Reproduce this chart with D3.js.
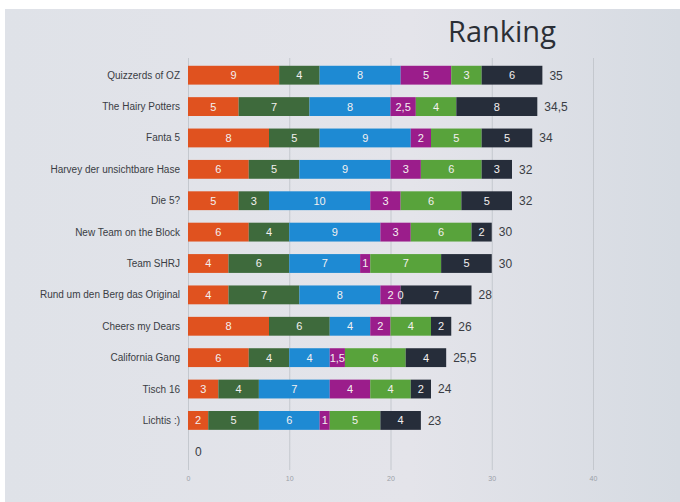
<!DOCTYPE html>
<html>
<head>
<meta charset="utf-8">
<script src="https://cdn.jsdelivr.net/npm/d3@7"></script>
<style>
  body { margin: 0; background: #fff; }
  svg { display: block; font-family: 'Liberation Sans', Arial, sans-serif; }
</style>
</head>
<body>
<svg id="chart" width="680" height="502"></svg>
<script>
// teams, top to bottom (last row is the empty one showing only "0")
const teams = [
  'Quizzerds of OZ', 'The Hairy Potters', 'Fanta 5', 'Harvey der unsichtbare Hase',
  'Die 5?', 'New Team on the Block', 'Team SHRJ', 'Rund um den Berg das Original',
  'Cheers my Dears', 'California Gang', 'Tisch 16', 'Lichtis :)', ''
];
const round1 = [9, 5, 8, 6, 5, 6, 4, 4, 8, 6, 3, 2, 0];
const round2 = [4, 7, 5, 5, 3, 4, 6, 7, 6, 4, 4, 5, 0];
const round3 = [8, 8, 9, 9, 10, 9, 7, 8, 4, 4, 7, 6, 0];
const round4 = [5, 2.5, 2, 3, 3, 3, 1, 2, 2, 1.5, 4, 1, 0];
const round5 = [3, 4, 5, 6, 6, 6, 7, 0, 4, 6, 4, 5, 0];
const round6 = [6, 8, 5, 3, 5, 2, 5, 7, 2, 4, 2, 4, 0];
const xTicks = [0, 10, 20, 30, 40];

const rounds = [round1, round2, round3, round4, round5, round6];
const colors = ['#e0521f', '#3e6a3c', '#1e8ad3', '#9b1d8b', '#58a33b', '#262d3a'];

const svg = d3.select('#chart');
const W = 680, H = 502;

// screen background (photo of a projector screen)
const defs = svg.append('defs');
const grad = defs.append('linearGradient').attr('id', 'bg').attr('x1', 0).attr('x2', 1);
grad.append('stop').attr('offset', '0%').attr('stop-color', '#dfe2e8');
grad.append('stop').attr('offset', '60%').attr('stop-color', '#e4e4ea');
grad.append('stop').attr('offset', '100%').attr('stop-color', '#d6dbe2');
svg.append('rect').attr('x', 5).attr('y', 9).attr('width', W - 5).attr('height', H - 9)
  .attr('fill', 'url(#bg)');

svg.append('text')
  .attr('x', 448).attr('y', 42)
  .attr('font-size', 29)
  .attr('fill', '#2b2f36')
  .attr('font-family', "'Open Sans', sans-serif")
  .text('Ranking');

const x = d3.scaleLinear().domain([0, 40]).range([188, 593]);
const y = d3.scaleBand().domain(d3.range(teams.length)).range([59.5, 467.5]).paddingInner(0.4).paddingOuter(0.2);

// grid + tick labels
const axis = svg.append('g')
  .attr('transform', 'translate(0,470)')
  .call(d3.axisBottom(x).tickValues(xTicks).tickSize(-412).tickPadding(6));
axis.select('.domain').remove();
axis.selectAll('.tick line').attr('stroke', '#c4c8ce').attr('stroke-width', 1);
axis.selectAll('.tick text').attr('fill', '#9aa0a8').attr('font-size', 7);

// stacked segments
const stacked = teams.map((t, i) => {
  let acc = 0;
  return rounds.map((r, k) => {
    const seg = { i, k, v: r[i], x0: acc, x1: acc + r[i] };
    acc += r[i];
    return seg;
  });
});
const totals = teams.map((t, i) => d3.sum(rounds, r => r[i]));

const rows = svg.selectAll('g.row')
  .data(stacked)
  .enter()
  .append('g')
  .attr('class', 'row');

rows.selectAll('rect')
  .data(d => d.filter(s => s.v > 0))
  .enter()
  .append('rect')
  .attr('x', d => x(d.x0))
  .attr('y', d => y(d.i))
  .attr('width', d => x(d.x1) - x(d.x0))
  .attr('height', y.bandwidth())
  .attr('fill', d => colors[d.k]);

rows.selectAll('text.seg')
  .data(d => d.filter(s => teams[s.i] !== ''))
  .enter()
  .append('text')
  .attr('class', 'seg')
  .attr('x', d => (x(d.x0) + x(d.x1)) / 2)
  .attr('y', d => y(d.i) + y.bandwidth() / 2)
  .attr('dy', '0.36em')
  .attr('text-anchor', 'middle')
  .attr('font-size', 11)
  .attr('fill', '#f4f0f0')
  .text(d => String(d.v).replace('.', ','));

// totals
svg.selectAll('text.total')
  .data(totals)
  .enter()
  .append('text')
  .attr('class', 'total')
  .attr('x', (d, i) => x(d) + 7)
  .attr('y', (d, i) => y(i) + y.bandwidth() / 2)
  .attr('dy', '0.36em')
  .attr('font-size', 12)
  .attr('fill', '#3a3d44')
  .text(d => String(d).replace('.', ','));

// team names
svg.selectAll('text.team')
  .data(teams)
  .enter()
  .append('text')
  .attr('class', 'team')
  .attr('x', 180)
  .attr('y', (d, i) => y(i) + y.bandwidth() / 2)
  .attr('dy', '0.35em')
  .attr('text-anchor', 'end')
  .attr('font-size', 10)
  .attr('fill', '#3a3d44')
  .text(d => d);
</script>
</body>
</html>
